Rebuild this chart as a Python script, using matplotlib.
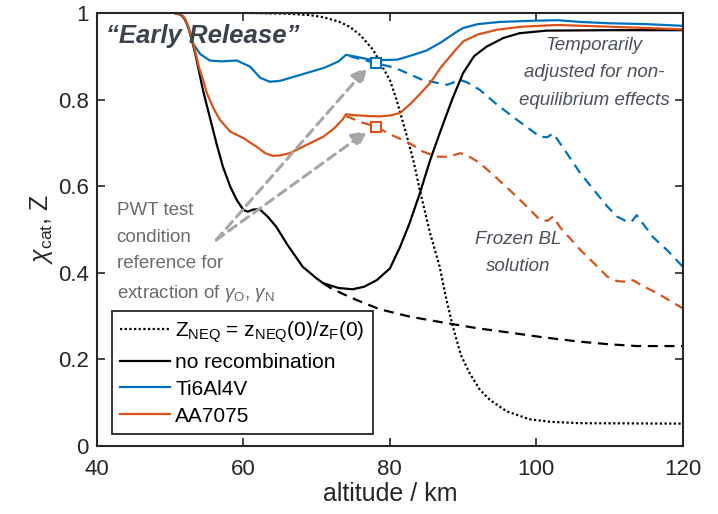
import numpy as np
import matplotlib
matplotlib.use("Agg")
import matplotlib.pyplot as plt

plt.rcParams['font.family'] = ['Liberation Sans', 'DejaVu Sans']
plt.rcParams['mathtext.fontset'] = 'custom'
plt.rcParams['mathtext.rm'] = 'Liberation Sans'
plt.rcParams['mathtext.it'] = 'Liberation Sans:italic'

BLUE = '#0072BD'
ORANGE = '#D95319'

# altitude (km) / value pairs
ti_alt = [40, 50.5, 51.5, 52, 52.5, 53.1, 54.1, 55.4, 57, 59.1, 60.9, 62.3, 63.6, 65, 67, 69, 71,
          73, 74, 75, 77, 79, 81, 83, 85, 87, 89, 90, 92, 95, 100, 103, 106, 110, 115, 120]
ti_val = [1.0, 1.0, 0.996, 0.987, 0.965, 0.93, 0.905, 0.89, 0.888, 0.89, 0.876, 0.85, 0.841,
          0.843, 0.853, 0.863, 0.873, 0.888, 0.903, 0.9, 0.893, 0.891, 0.892, 0.902, 0.913,
          0.932, 0.955, 0.965, 0.974, 0.979, 0.982, 0.983, 0.979, 0.976, 0.974, 0.97]

aa_alt = [40, 50.5, 51.5, 52, 52.5, 53, 53.5, 54, 54.5, 55, 55.9, 56.8, 58.2, 60, 61.8, 63, 64,
          65, 66.3, 68, 70.9, 72.5, 73.6, 74, 75, 77, 78.6, 80, 81.4, 83, 85.5, 87, 89, 90, 92,
          94.6, 98, 102.8, 110, 120]
aa_val = [1.0, 1.0, 0.996, 0.987, 0.968, 0.94, 0.905, 0.87, 0.845, 0.815, 0.78, 0.753, 0.726,
          0.711, 0.691, 0.676, 0.67, 0.671, 0.676, 0.69, 0.714, 0.735, 0.755, 0.766, 0.764,
          0.762, 0.761, 0.763, 0.769, 0.793, 0.838, 0.875, 0.915, 0.934, 0.95, 0.961, 0.968,
          0.972, 0.968, 0.962]

norec_alt = [40, 50.5, 51.5, 52, 52.5, 53, 53.5, 54, 54.5, 55.4, 56.3, 57.2, 58.2, 59.1, 60,
             60.6, 61.3, 62.2, 63.3, 64.5, 66, 68.1, 70, 70.9, 73, 74.9, 76.5, 78.2, 80, 81.4,
             82.7, 84.1, 85.5, 86.8, 88.5, 90, 91.5, 93.2, 95.5, 97.7, 101.4, 110, 120]
norec_val = [1.0, 1.0, 0.995, 0.985, 0.965, 0.935, 0.9, 0.86, 0.82, 0.76, 0.7, 0.645, 0.599,
             0.568, 0.545, 0.541, 0.546, 0.547, 0.53, 0.506, 0.465, 0.414, 0.387, 0.376, 0.365,
             0.362, 0.368, 0.383, 0.41, 0.46, 0.515, 0.584, 0.66, 0.722, 0.8, 0.861, 0.9, 0.922,
             0.942, 0.953, 0.959, 0.96, 0.96]

# frozen boundary layer branches
norec_fz_alt = [70.9, 71.8, 73.5, 75.5, 78.6, 82.7, 87.7, 92, 96.8, 101, 106, 110, 113.7, 120]
norec_fz_val = [0.376, 0.366, 0.352, 0.337, 0.316, 0.299, 0.284, 0.272, 0.261, 0.251, 0.241,
                0.235, 0.231, 0.231]

ti_fz_alt = [74.5, 76, 78.1, 80, 81.4, 84.5, 87.8, 89.6, 90.5, 92.3, 94.5, 96.8, 100.5, 101.5,
             102.3, 104, 106, 108, 109.7, 111, 112.4, 113, 113.7, 115.9, 118, 120]
ti_fz_val = [0.9, 0.893, 0.884, 0.876, 0.868, 0.845, 0.834, 0.845, 0.84, 0.822, 0.79, 0.76, 0.714,
             0.713, 0.722, 0.68, 0.63, 0.588, 0.553, 0.53, 0.518, 0.518, 0.533, 0.483, 0.45, 0.414]

aa_fz_alt = [74, 76, 78.1, 80, 82.7, 84.5, 86.4, 88, 89.6, 90.5, 92.3, 94.5, 96.8, 99, 100.5,
             101.5, 102.3, 103.2, 106, 108, 109.7, 111, 112.4, 113.2, 114.5, 116.5, 118, 120]
aa_fz_val = [0.762, 0.748, 0.737, 0.72, 0.699, 0.68, 0.668, 0.668, 0.676, 0.672, 0.653, 0.62,
             0.584, 0.548, 0.522, 0.52, 0.53, 0.506, 0.453, 0.42, 0.391, 0.381, 0.379, 0.383,
             0.37, 0.353, 0.338, 0.318]

zneq_alt = [40, 60, 66, 69, 70.9, 73, 74.5, 76, 77.7, 79, 80, 80.9, 82, 83.2, 84.1, 85.5, 86.8,
            87.7, 88.6, 89.7, 90.9, 92.3, 93.7, 96, 99.1, 102, 106, 120]
zneq_val = [1.0, 1.0, 0.998, 0.995, 0.99, 0.98, 0.968, 0.948, 0.915, 0.875, 0.845, 0.8, 0.735,
            0.66, 0.59, 0.491, 0.414, 0.34, 0.276, 0.21, 0.168, 0.13, 0.106, 0.08, 0.062, 0.056,
            0.053, 0.052]

# PWT test condition points
pwt_alt = [78.1, 78.1]
pwt_val = [0.884, 0.737]

fig = plt.figure(figsize=(7.18, 5.14), dpi=100)
ax = fig.add_axes([0.135, 0.132, 0.816, 0.843])

lw = 1.6
dash = (0, (4.5, 3))
ax.plot(zneq_alt, zneq_val, color='black', lw=lw, linestyle=(0, (1, 1.1)),
        label=r'$\mathregular{Z_{NEQ}}$ = $\mathregular{z_{NEQ}(0)/z_F(0)}$')
ax.plot(norec_fz_alt, norec_fz_val, color='black', lw=lw, linestyle=dash)
ax.plot(ti_fz_alt, ti_fz_val, color=BLUE, lw=lw, linestyle=dash)
ax.plot(aa_fz_alt, aa_fz_val, color=ORANGE, lw=lw, linestyle=dash)
ax.plot(norec_alt, norec_val, color='black', lw=lw, label='no recombination')
ax.plot(ti_alt, ti_val, color=BLUE, lw=lw, label='Ti6Al4V')
ax.plot(aa_alt, aa_val, color=ORANGE, lw=lw, label='AA7075')
ax.plot(pwt_alt[0], pwt_val[0], 's', ms=6.5, mfc='white', mec=BLUE, mew=1.5)
ax.plot(pwt_alt[1], pwt_val[1], 's', ms=6.5, mfc='white', mec=ORANGE, mew=1.5)

# arrows from annotation to the test points
for yv in pwt_val:
    ax.annotate('', xy=(76.9, yv - 0.01), xytext=(56.3, 0.476),
                arrowprops=dict(arrowstyle='-|>,head_length=0.9,head_width=0.45',
                                color='#a6a6a6', lw=2.2, linestyle=(0, (3, 2)),
                                shrinkA=0, shrinkB=0))

ax.set_xlim(40, 120)
ax.set_ylim(0, 1)
ax.set_xticks([40, 60, 80, 100, 120])
ax.set_yticks([0, 0.2, 0.4, 0.6, 0.8, 1])
ax.set_yticklabels(['0', '0.2', '0.4', '0.6', '0.8', '1'])
ax.tick_params(direction='in', length=6, width=1.2, labelsize=16, colors='#262626',
               top=True, right=True)
ax.tick_params(axis='x', pad=9)
ax.tick_params(axis='y', pad=6)
for s in ax.spines.values():
    s.set_linewidth(1.5)
    s.set_color('#262626')

ax.set_xlabel('altitude / km', fontsize=18, color='#262626', labelpad=2)
ax.set_ylabel(r'$\chi_{\mathregular{cat}}$, Z', fontsize=18, color='#262626', labelpad=2)

ax.text(41.3, 0.931, '\u201cEarly Release\u201d', fontsize=18.5, fontweight='bold',
        fontstyle='italic', color='#3c424c', va='baseline', ha='left')
ax.text(42.7, 0.563, 'PWT test\ncondition\nreference for\nextraction of $\\gamma_\\mathregular{O}$, $\\gamma_\\mathregular{N}$',
        fontsize=13.5, color='#6b6b6b', va='top', ha='left', linespacing=1.72)
ax.text(107.9, 0.945, 'Temporarily\nadjusted for non-\nequilibrium effects', fontsize=13.5,
        fontstyle='italic', color='#4b505a', va='top', ha='center', linespacing=1.82)
ax.text(97.5, 0.497, 'Frozen BL\nsolution', fontsize=13.5, fontstyle='italic', color='#4b505a',
        va='top', ha='center', linespacing=1.82)

leg = ax.legend(loc='lower left', bbox_to_anchor=(0.0255, 0.028), fontsize=15, frameon=True,
                fancybox=False, handlelength=2.4, handletextpad=0.25, borderpad=0.4,
                labelspacing=0.38, borderaxespad=0)
leg.get_frame().set_edgecolor('#262626')
leg.get_frame().set_linewidth(1.3)
leg.get_frame().set_alpha(1)

fig.savefig('out.png', dpi=100)
